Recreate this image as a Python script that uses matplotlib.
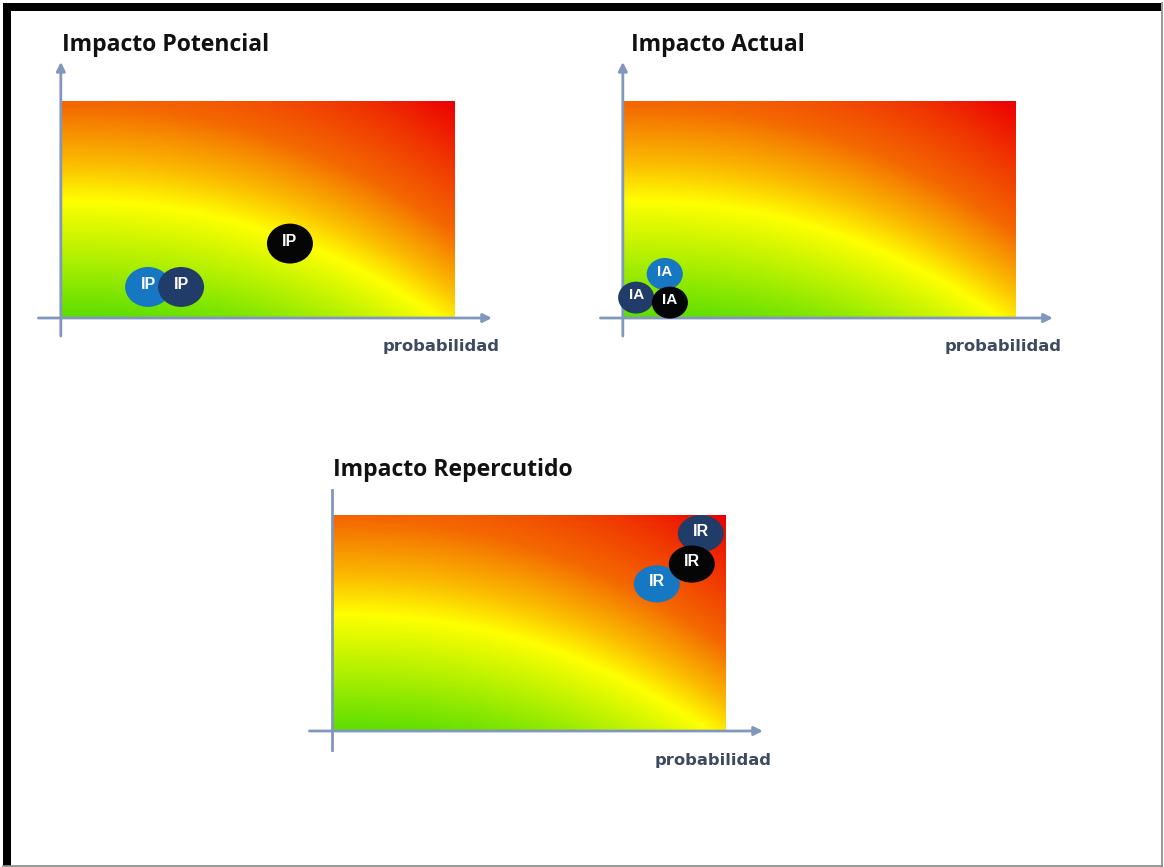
import numpy as np
import matplotlib
matplotlib.use('Agg')
import matplotlib.pyplot as plt
from matplotlib.colors import LinearSegmentedColormap
from matplotlib.patches import Ellipse, Rectangle
from matplotlib.lines import Line2D

# panel titles and label per panel
titles = ['Impacto Potencial', 'Impacto Actual', 'Impacto Repercutido']
labels = ['IP', 'IA', 'IR']
xlabel = 'probabilidad'

# bubbles: probability (x), impact (y), colour key, drawn in this order
ip_prob = [0.219, 0.303, 0.580]
ip_imp = [0.143, 0.143, 0.343]
ip_kind = ['blue', 'navy', 'black']

ia_prob = [0.104, 0.031, 0.117]
ia_imp = [0.203, 0.094, 0.071]
ia_kind = ['blue', 'navy', 'black']

ir_prob = [0.936, 0.824, 0.913]
ir_imp = [0.914, 0.681, 0.773]
ir_kind = ['navy', 'blue', 'black']

kind_colors = {'blue': '#1677c2', 'navy': '#223c6a', 'black': '#050505'}
AXIS_COL = '#8197bd'

W, H = 1164, 867
fig = plt.figure(figsize=(W / 100, H / 100), dpi=100)

heat = LinearSegmentedColormap.from_list('heat', [
    (0.00, '#5cde00'),
    (0.17, '#b0f000'),
    (0.34, '#ffff00'),
    (0.45, '#fbbc00'),
    (0.62, '#f46800'),
    (0.82, '#f03400'),
    (1.00, '#ec0000'),
])


def px_axes(x0, y0, x1, y1):
    return fig.add_axes([x0 / W, 1 - y1 / H, (x1 - x0) / W, (y1 - y0) / H])


def panel(ax, title, tx, ty, px, py, kinds, lab, size, lab_fs, top_arrow=True, xlab_pos=None):
    u = np.linspace(0, 1, 400)
    v = np.linspace(0, 1, 250)
    U, V = np.meshgrid(u, v)
    S = V / 0.54 + (U / 0.96) ** 2.2
    ax.imshow(S, cmap=heat, vmin=0, vmax=2.94, origin='lower',
              extent=[0, 1, 0, 1], aspect='auto', interpolation='bilinear')
    ax.set_xlim(0, 1)
    ax.set_ylim(0, 1)
    ax.axis('off')

    # axis arrows
    ax.annotate('', xy=(1.094, 0), xytext=(-0.06, 0), annotation_clip=False,
                arrowprops=dict(arrowstyle='-|>', color=AXIS_COL, lw=2, mutation_scale=13,
                                shrinkA=0, shrinkB=0))
    if top_arrow:
        ax.annotate('', xy=(-0.003, 1.18), xytext=(-0.003, -0.083), annotation_clip=False,
                    arrowprops=dict(arrowstyle='-|>', color=AXIS_COL, lw=2, mutation_scale=13,
                                    shrinkA=0, shrinkB=0))
    else:
        ax.plot([-0.003, -0.003], [-0.088, 1.116], color=AXIS_COL, lw=2, clip_on=False)

    w, h = size
    for x, y, k in zip(px, py, kinds):
        ax.add_patch(Ellipse((x, y), w, h, facecolor=kind_colors[k], edgecolor='none',
                             clip_on=False, zorder=3))
        ax.text(x, y + 0.01, lab, color='white', fontsize=lab_fs, fontweight='bold',
                family='Liberation Sans', ha='center', va='center', zorder=4)

    fig.text(tx / W, 1 - ty / H, title, fontsize=16.6, fontweight='bold',
             family='Open Sans', ha='left', va='center', color='#111111')
    xr, yr = xlab_pos
    fig.text(xr / W, 1 - yr / H, xlabel, fontsize=11.8, fontweight='bold',
             family='DejaVu Sans', ha='right', va='center', color='#3e4a60')


ax1 = px_axes(62, 101, 455, 318)
panel(ax1, titles[0], 62, 45, ip_prob, ip_imp, ip_kind, labels[0], (0.117, 0.184), 11.5,
      xlab_pos=(500, 346))

ax2 = px_axes(624, 101, 1016, 318)
panel(ax2, titles[1], 631, 45, ia_prob, ia_imp, ia_kind, labels[1], (0.092, 0.147), 11,
      xlab_pos=(1062, 346))

ax3 = px_axes(333, 515, 726, 731)
panel(ax3, titles[2], 333, 470, ir_prob, ir_imp, ir_kind, labels[2], (0.117, 0.172), 11.5,
      top_arrow=False, xlab_pos=(772, 760))

# frame around the picture
fig.add_artist(Rectangle((3 / W, 1 - 11 / H), 1158 / W, 8 / H, transform=fig.transFigure,
                         facecolor='black', edgecolor='none'))
fig.add_artist(Rectangle((3 / W, 1 - 866 / H), 8 / W, 863 / H, transform=fig.transFigure,
                         facecolor='black', edgecolor='none'))
fig.add_artist(Line2D([1161.5 / W, 1161.5 / W], [1 - 3 / H, 1 - 866 / H],
                      transform=fig.transFigure, color='#888888', lw=1.2))
fig.add_artist(Line2D([3 / W, 1162 / W], [1 - 865.5 / H, 1 - 865.5 / H],
                      transform=fig.transFigure, color='#888888', lw=1.2))

fig.savefig('out.png', dpi=100)
